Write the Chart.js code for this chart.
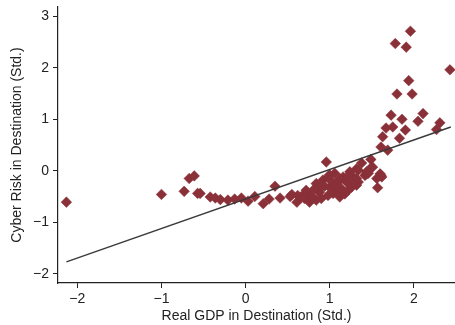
<!DOCTYPE html>
<html>
<head>
<meta charset="utf-8">
<script src="https://cdn.jsdelivr.net/npm/chart.js@4/dist/chart.umd.min.js"></script>
<style>
  body { margin: 0; background: #fff; }
  #gdp_chart { display: block; }
</style>
</head>
<body>
<canvas id="gdp_chart" width="455" height="325"></canvas>
<script>
// real GDP (std.) per destination
const gdp_x = [
  -2.13, -1.00, -0.73, -0.67, -0.61, -0.57, -0.54, -0.42, -0.36, -0.30,
  -0.21, -0.13, -0.05, 0.03, 0.11, 0.21, 0.28, 0.35, 0.41, 0.53,
  0.55, 0.61, 0.62, 0.66, 0.68, 0.70, 0.74, 0.76, 0.80, 0.84,
  0.84, 0.86, 0.90, 0.92, 0.96, 0.98, 0.98, 1.00, 1.04,
  1.06, 1.10, 1.12, 1.14, 1.16, 1.20, 1.22, 1.24, 1.26, 1.28,
  1.30, 1.32, 1.32, 1.32, 1.34, 1.34, 1.38, 1.42,
  1.44, 1.44, 1.46, 1.48, 1.49, 1.51, 1.56, 1.57, 1.60, 1.61,
  1.62, 1.61, 1.63, 1.67, 1.69, 1.73, 1.75, 1.83, 1.86, 1.90,
  2.05, 2.11, 2.27, 2.31, 1.78, 1.91, 1.96, 1.94, 1.80, 1.98,
  2.43,
  0.88, 0.94, 1.02, 1.08, 0.82, 1.18, 1.00, 1.12, 0.90, 1.06,
  1.22, 0.78, 1.16, 1.28, 0.72
]
// cyber risk (std.) per destination
const risk_y = [
  -0.61, -0.46, -0.40, -0.15, -0.10, -0.44, -0.44, -0.51, -0.53, -0.56,
  -0.57, -0.55, -0.53, -0.59, -0.50, -0.64, -0.55, -0.30, -0.53, -0.50,
  -0.46, -0.61, -0.48, -0.51, -0.48, -0.54, -0.44, -0.61, -0.54, -0.57,
  -0.25, -0.38, -0.54, -0.18, 0.17, -0.12, -0.48, -0.32, -0.44,
  -0.05, -0.22, -0.51, -0.35, -0.12, -0.22, -0.38, -0.02, -0.32, -0.12,
  -0.18, 0.04, -0.15, -0.28, -0.22, 0.01, 0.15, -0.09,
  -0.06, -0.02, -0.05, 0.04, 0.22, 0.07, -0.15, -0.33, -0.06, -0.09,
  -0.12, 0.46, 0.66, 0.83, 0.40, 1.08, 0.85, 0.63, 1.00, 0.79,
  0.96, 1.11, 0.80, 0.93, 2.47, 2.40, 2.71, 1.75, 1.49, 1.49,
  1.96,
  -0.42, -0.30, -0.20, -0.40, -0.35, -0.45, -0.08, -0.15, -0.28, -0.30,
  -0.10, -0.48, -0.40, -0.25, -0.38
]

// linear fit
const fit_x = [-2.13, 2.44]
const fit_y = [-1.77, 0.85]

const x_ticks = [-2, -1, 0, 1, 2]
const y_ticks = [-2, -1, 0, 1, 2, 3]

const points = gdp_x.map((v, i) => ({x: v, y: risk_y[i]}))
const fit = fit_x.map((v, i) => ({x: v, y: fit_y[i]}))

function fmt(v) {
    return v < 0 ? '\u2212' + Math.abs(v) : String(v)
}

const font = {family: "'Liberation Sans', Arial, Helvetica, sans-serif", size: 14}

new Chart("gdp_chart", {
    type: "scatter",
    data: {
        datasets: [{
            type: "line",
            data: fit,
            borderColor: "#3a3a3a",
            borderWidth: 1.5,
            pointRadius: 0,
            fill: false,
            order: 0,
            clip: false,
        }, {
            data: points,
            pointStyle: "rectRot",
            pointRadius: 5.3,
            backgroundColor: "#8a3038",
            borderColor: "#8a3038",
            borderWidth: 0.5,
            order: 1,
            clip: false,
        }]
    },
    options: {
        responsive: false,
        animation: false,
        layout: {autoPadding: false, padding: {top: 7, right: 0, bottom: 0, left: 0}},
        plugins: {legend: {display: false}, tooltip: {enabled: false}},
        scales: {
            x: {
                type: "linear",
                min: -2.23,
                max: 2.49,
                afterBuildTicks: s => { s.ticks = x_ticks.map(v => ({value: v})) },
                afterFit: s => { s.height = 42; s.paddingLeft = 0; s.paddingRight = 0 },
                grid: {drawOnChartArea: false, drawTicks: true, tickLength: 5, color: "#222"},
                border: {display: true, color: "#222", width: 1.2},
                ticks: {color: "#222", font: font, padding: 3, callback: fmt},
                title: {display: true, text: "Real GDP in Destination (Std.)", color: "#222", font: font, padding: {top: 0, bottom: 0}},
            },
            y: {
                type: "linear",
                min: -2.18,
                max: 3.18,
                afterBuildTicks: s => { s.ticks = y_ticks.map(v => ({value: v})) },
                afterFit: s => { s.width = 58; s.paddingTop = 0; s.paddingBottom = 0 },
                grid: {drawOnChartArea: false, drawTicks: true, tickLength: 5, color: "#222"},
                border: {display: true, color: "#222", width: 1.2},
                ticks: {color: "#222", font: font, padding: 4, callback: fmt},
                title: {display: true, text: "Cyber Risk in Destination (Std.)", color: "#222", font: font, padding: {top: 9, bottom: 0}},
            }
        }
    }
});
</script>
</body>
</html>
